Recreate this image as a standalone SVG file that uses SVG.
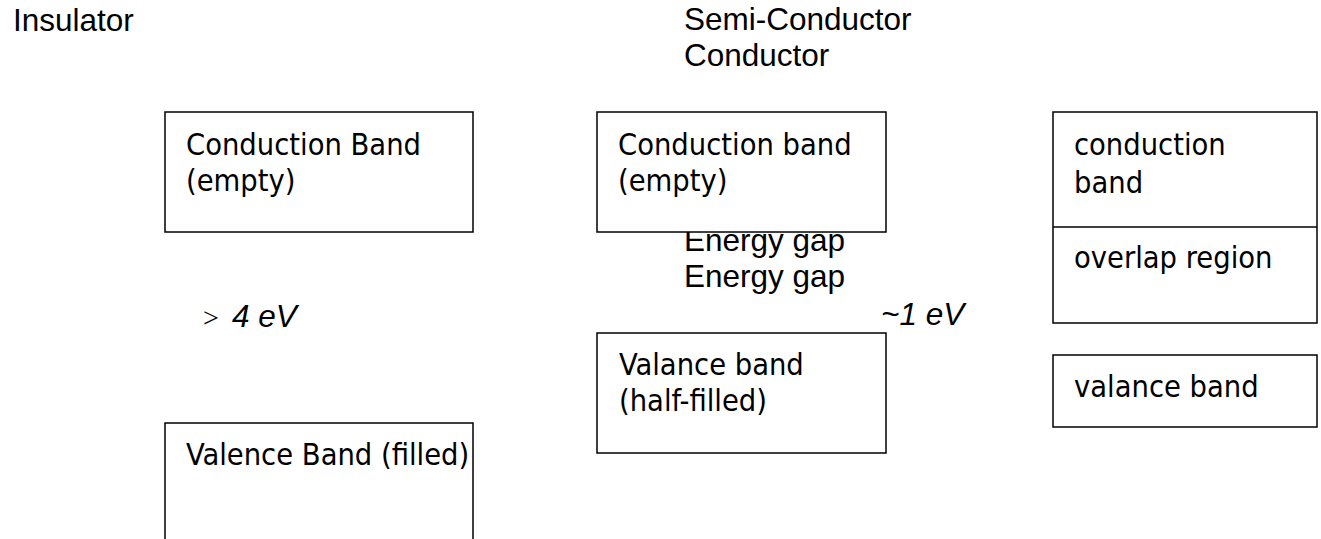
<svg xmlns="http://www.w3.org/2000/svg" width="1321" height="539" viewBox="0 0 1321 539">
<style>
.hdr{font-family:"Liberation Sans",Arial,sans-serif;font-size:31.5px;fill:#000}
.ev{font-family:"Liberation Sans",Arial,sans-serif;font-size:31.5px;font-style:italic;fill:#000}
.bx{fill:#fff;stroke:#000;stroke-width:1.5}
.ln{fill:none;stroke:#000;stroke-width:1.5}
.bt{font-family:"DejaVu Sans Condensed","DejaVu Sans",sans-serif;font-stretch:condensed;font-size:30.5px;fill:#000}
</style>
<rect width="1321" height="539" fill="#fff"/>
<g id="labels">
<text class="hdr" x="13" y="31">Insulator</text>
<text class="hdr" x="684" y="30">Semi-Conductor</text>
<text class="hdr" x="684" y="66">Conductor</text>
<text class="hdr" x="684" y="251">Energy gap</text>
<text class="hdr" x="684" y="287">Energy gap</text>
<text class="ev" x="203" y="327"><tspan font-family="'Liberation Serif',serif" font-style="normal" font-size="28">&gt;</tspan><tspan x="232">4 eV</tspan></text>
<text class="ev" x="881" y="325">~1 eV</text>
</g>
<g id="ins-conduction">
<rect class="bx" x="165" y="112" width="308" height="120"/>
<text class="bt" x="186" y="155">Conduction Band</text>
<text class="bt" x="186" y="191">(empty)</text>
</g>
<g id="ins-valence">
<path class="ln" d="M165,545 V423 H473 V545"/>
<text class="bt" x="186" y="465">Valence Band (filled)</text>
</g>
<g id="semi-conduction">
<rect class="bx" x="597" y="112" width="289" height="120"/>
<text class="bt" x="618" y="155">Conduction band</text>
<text class="bt" x="618" y="191">(empty)</text>
</g>
<g id="semi-valence">
<rect class="bx" x="597" y="333" width="289" height="120"/>
<text class="bt" x="619" y="375">Valance band</text>
<text class="bt" x="619" y="411">(half-filled)</text>
</g>
<g id="cond-conduction">
<rect class="bx" x="1053" y="112" width="264" height="211"/>
<line class="ln" x1="1053" y1="227" x2="1317" y2="227"/>
<text class="bt" x="1074" y="155">conduction</text>
<text class="bt" x="1074" y="193">band</text>
<text class="bt" x="1074" y="268">overlap region</text>
</g>
<g id="cond-valence">
<rect class="bx" x="1053" y="355" width="264" height="72"/>
<text class="bt" x="1074" y="397">valance band</text>
</g>
<g id="connectors"></g>
</svg>
